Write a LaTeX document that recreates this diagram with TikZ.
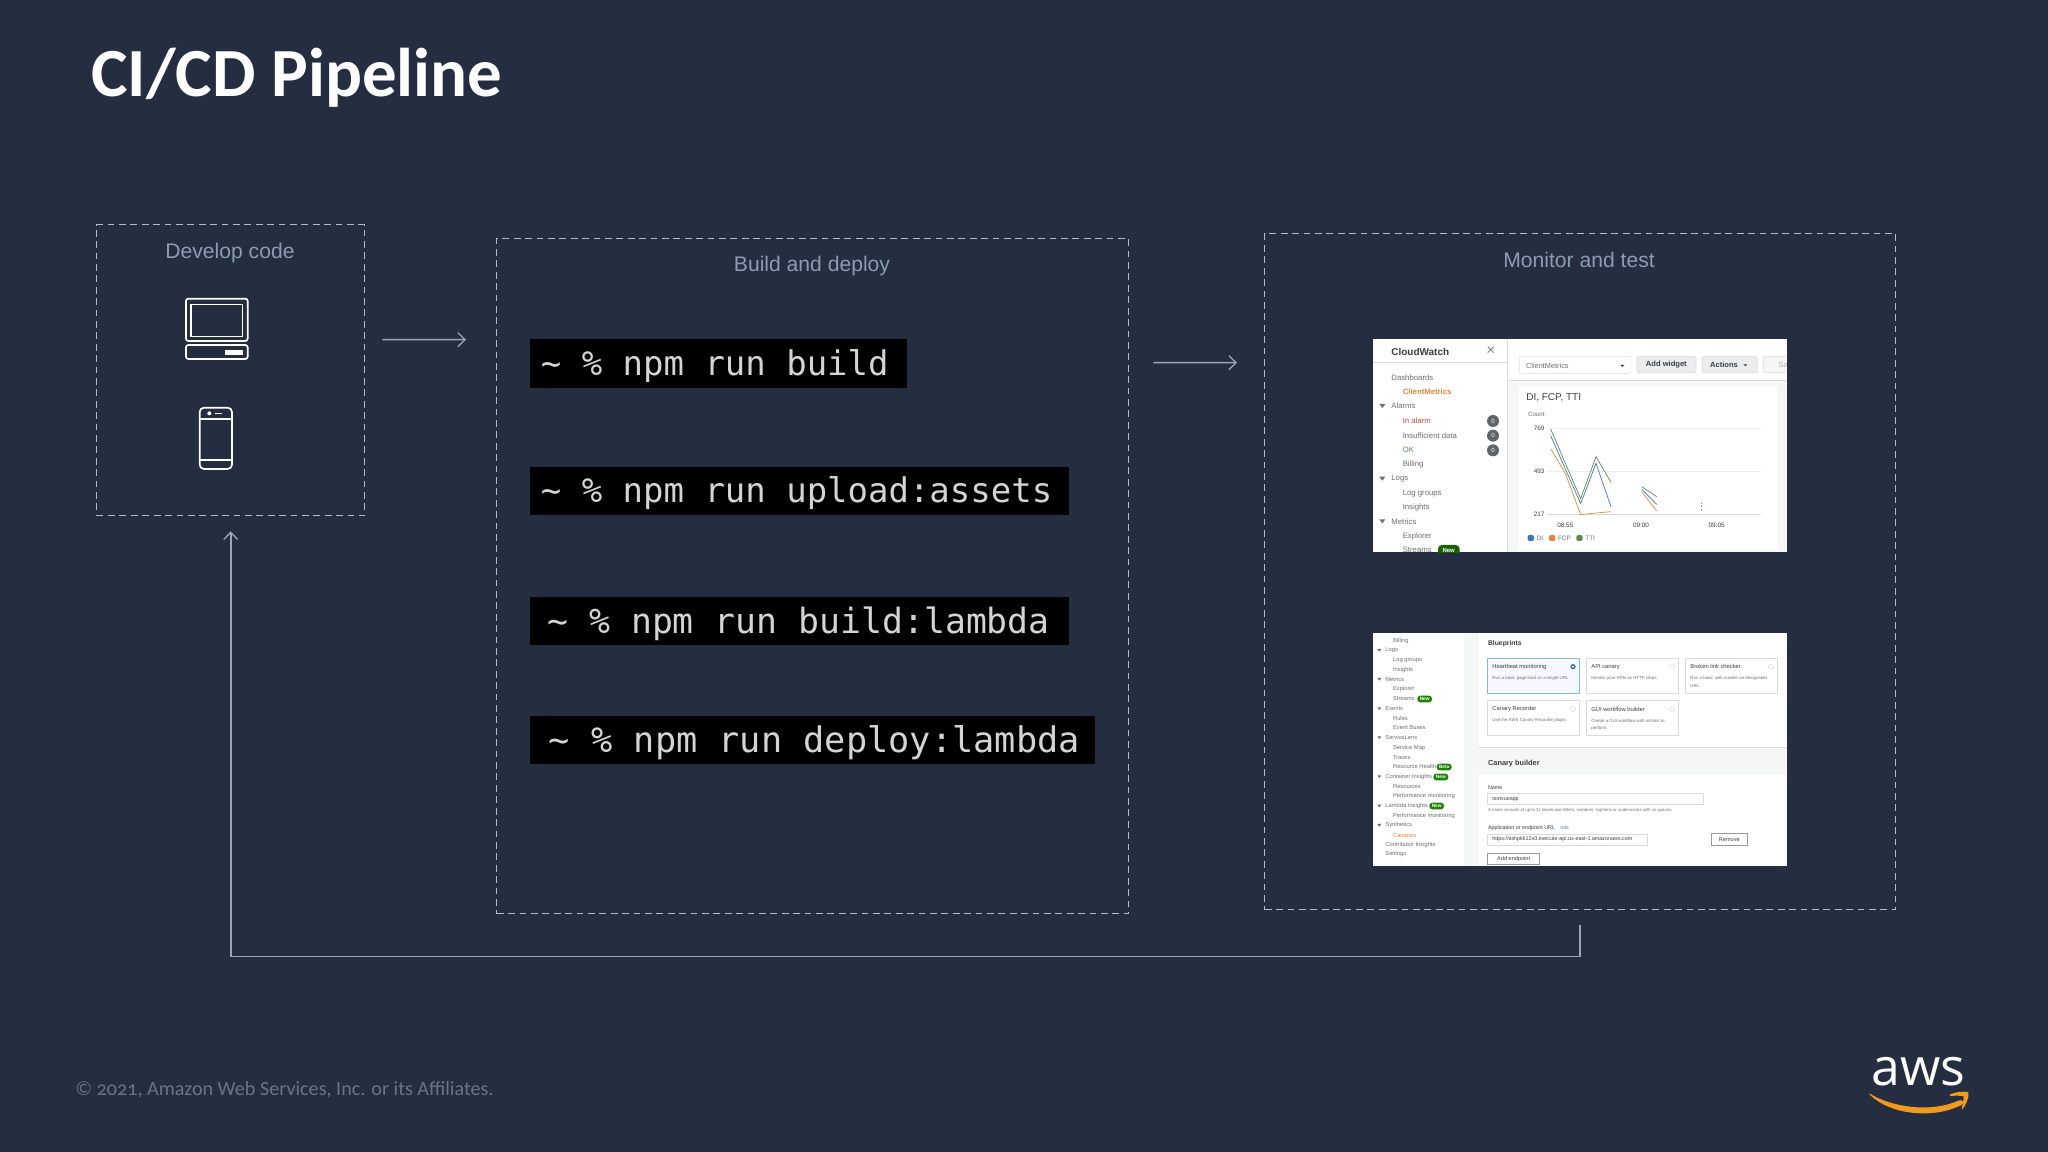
\documentclass[tikz,border=0pt]{standalone}
\usepackage{fontspec}
\setmainfont{Liberation Sans}
\newfontfamily\carlito[Numbers=OldStyle]{Carlito}
\newfontfamily\menlo{DejaVu Sans Mono}
\newfontfamily\opens{Open Sans}
\usetikzlibrary{arrows.meta,calc}
\definecolor{bgc}{HTML}{242E40}
\definecolor{dashc}{HTML}{B4BBC6}
\definecolor{linec}{HTML}{9AA7BA}
\definecolor{labelc}{HTML}{8C9BB2}
\definecolor{cmdc}{HTML}{D4D4D4}
\definecolor{foot}{HTML}{6B7484}
\definecolor{gt}{HTML}{6A6F76}
\definecolor{dt}{HTML}{3A3F45}
\definecolor{orng}{HTML}{E0873C}
\definecolor{rd}{HTML}{C0503A}
\definecolor{grn}{HTML}{5C8A4A}
\definecolor{blu}{HTML}{3F78B0}
\definecolor{pill}{HTML}{1D8102}
\definecolor{lite}{HTML}{F5F6F6}
\definecolor{edge}{HTML}{D9DCDE}
\definecolor{smile}{HTML}{F39A1E}
\newcounter{tc}
\newcommand{\tx}[5]{\stepcounter{tc}\node[anchor=west,inner sep=0pt,text=#4,font=\fontsize{#3}{#3}\selectfont] (t\thetc) at (#1,#2) {#5};}
\newcommand{\bx}[5]{\stepcounter{tc}\node[anchor=west,inner sep=0pt,text=#4,font=\fontsize{#3}{#3}\selectfont\bfseries] (t\thetc) at (#1,#2) {#5};}
\newcommand{\ct}[5]{\stepcounter{tc}\node[anchor=center,inner sep=0pt,text=#4,font=\fontsize{#3}{#3}\selectfont] (t\thetc) at (#1,#2) {#5};}
\tikzset{
  zone/.style={draw=dashc,line width=0.7pt,dash pattern=on 3.4bp off 2.3bp,inner sep=0pt,anchor=north west},
  zonelabel/.style={text=labelc,font=\fontsize{10.6}{12}\selectfont,inner sep=0pt,anchor=base},
  flow/.style={draw=linec,line width=0.8pt,-{Straight Barb[length=3.6pt,width=7pt,line width=0.65pt]}},
  cmdbox/.style={fill=black,inner sep=0pt,anchor=north west},
  cmdtext/.style={text=cmdc,inner sep=0pt,anchor=base west},
  icon/.style={draw=white,line width=0.85pt,rounded corners=1.2pt},
  pnl/.style={fill=white,draw=edge,line width=0.2pt},
  ln/.style={line width=0.35pt},
}
\begin{document}
\begin{tikzpicture}[x=0.5bp,y=-0.5bp]
\useasboundingbox (0,0) rectangle (2048,1152);
\fill[bgc] (0,0) rectangle (2048,1152);

% title and footer
\node[inner sep=0pt,anchor=base west,text=white,font=\carlito\fontsize{34.6}{36}\selectfont\bfseries] (title) at (91,97) {CI/CD Pipeline};
\node[inner sep=0pt,anchor=base west,text=foot,font=\carlito\fontsize{10.1}{12}\selectfont] (footer) at (75,1095) {© 2021, Amazon Web Services, Inc. or its Affiliates.};

% zones
\node[zone,minimum width=134bp,minimum height=145.5bp] (dev) at (96,224) {};
\node[zone,minimum width=316bp,minimum height=337.5bp] (build) at (496,238) {};
\node[zone,minimum width=315.5bp,minimum height=338bp] (mon) at (1264,233) {};
\node[zonelabel] (devl) at (230,259) {Develop code};
\node[zonelabel] (buildl) at (812,272) {Build and deploy};
\node[zonelabel] (monl) at (1579,268) {Monitor and test};

% connectors
\draw[flow] ([xshift=8.5bp,yshift=15.25bp]dev.east) -- ([xshift=-15bp,yshift=118.25bp]build.west);
\draw[flow] ([xshift=12bp,yshift=106.75bp]build.east) -- ([xshift=-13.5bp,yshift=104.5bp]mon.west);
\draw[flow] ([yshift=-7.5bp]mon.south) -- ++(0,31) -| ([yshift=-7.5bp]dev.south);

% commands
\node[cmdbox,minimum width=188.5bp,minimum height=24.5bp] (c1) at (530,339) {};
\node[cmdbox,minimum width=269.5bp,minimum height=24bp] (c2) at (530,467) {};
\node[cmdbox,minimum width=269.5bp,minimum height=24bp] (c3) at (530,597) {};
\node[cmdbox,minimum width=282.5bp,minimum height=24bp] (c4) at (530,716) {};
\node[cmdtext,font=\menlo\fontsize{17.05}{18}\selectfont] (ct1) at (540.5,376) {\char126{} \% npm run build};
\node[cmdtext,font=\menlo\fontsize{17.05}{18}\selectfont] (ct2) at (540.5,503) {\char126{} \% npm run upload:assets};
\node[cmdtext,font=\menlo\fontsize{17.45}{18}\selectfont] (ct3) at (547,633.5) {\char126{} \% npm run build:lambda};
\node[cmdtext,font=\menlo\fontsize{17.7}{18}\selectfont] (ct4) at (548.5,752.5) {\char126{} \% npm run deploy:lambda};

% device icons
\begin{scope}[shift={(80,210)},x=0.16667bp,y=-0.16667bp]
\draw[icon] (318,266) rectangle (503,393);
\draw[icon,rounded corners=0pt,line width=0.75pt] (333,283) rectangle (488,380);
\draw[icon] (318,405) rectangle (503,447);
\fill[white] (435,420) rectangle (488,436);
\draw[icon,rounded corners=2.2pt] (359,593) rectangle (456,777);
\draw[white,line width=0.65pt] (359,627) -- (456,627) (359,750) -- (456,750);
\fill[white] (388,610) circle (6);
\draw[white,line width=0.7pt] (405,610) -- (427,610);
\end{scope}

% CloudWatch screenshot
\begin{scope}[shift={(1360,330)},x=0.16667bp,y=-0.16667bp]
\fill[white] (39,26) rectangle (1280,667);
\begin{scope}
\clip (39,26) rectangle (1280,667);
\fill[lite] (442,26) rectangle (1280,667);
\fill[white] (442,26) rectangle (1280,150);
\draw[edge,line width=0.4pt] (442,26) -- (442,667);
\fill[edge] (442,150) rectangle (1280,154);
\draw[edge,line width=0.2pt] (39,98) -- (442,98);
\bx{93}{66}{5}{dt}{CloudWatch}
\draw[gt,line width=0.35pt] (383,50) -- (401,68) (401,50) -- (383,68);
\tx{93}{144}{3.9}{gt}{Dashboards}
\bx{127}{186}{3.9}{orng}{ClientMetrics}
\tx{93}{228}{3.9}{gt}{Alarms}
\tx{127}{272}{3.9}{rd}{In alarm}
\tx{127}{316}{3.9}{gt}{Insufficient data}
\tx{127}{360}{3.9}{grn}{OK}
\tx{127}{404}{3.9}{gt}{Billing}
\tx{93}{446}{3.9}{gt}{Logs}
\tx{127}{490}{3.9}{gt}{Log groups}
\tx{127}{532}{3.9}{gt}{Insights}
\tx{93}{574}{3.9}{gt}{Metrics}
\tx{127}{618}{3.9}{gt}{Explorer}
\tx{127}{660}{3.9}{gt}{Streams}
\foreach \yy in {228,446,574} {\fill[gt] (58,\yy-6) -- (76,\yy-6) -- (67,\yy+6) -- cycle;}
\foreach \yy in {273,317,361} {\fill[dt!80] (399,\yy) circle (18); \ct{399}{\yy}{3}{white}{0}}
\fill[pill!75!black,rounded corners=2pt] (234,645) rectangle (299,690);
\ct{266}{660}{3}{white}{\bfseries New}
\draw[pnl,rounded corners=1pt] (478,80) rectangle (813,130);
\tx{497}{107}{3.7}{gt}{ClientMetrics}
\fill[dt] (781,105) -- (793,105) -- (787,111) -- cycle;
\fill[edge!55,draw=edge,rounded corners=1pt] (831,80) rectangle (1008,128);
\ct{919}{105}{3.8}{dt}{\bfseries Add widget}
\fill[edge!55,draw=edge,rounded corners=1pt] (1026,80) rectangle (1192,128);
\ct{1092}{105}{3.8}{dt}{\bfseries Actions}
\fill[dt] (1150,103) -- (1162,103) -- (1156,109) -- cycle;
\fill[lite,draw=edge,rounded corners=1pt] (1210,80) rectangle (1300,128);
\tx{1255}{105}{3.8}{edge!80!black}{Save}
\fill[white] (478,172) rectangle (1252,660);
\tx{498}{203}{5}{dt}{DI, FCP, TTI}
\tx{503}{252}{3.1}{gt}{Count}
\tx{520}{296}{3.2}{dt}{769}
\tx{520}{425}{3.2}{dt}{493}
\tx{520}{554}{3.2}{dt}{217}
\ct{616}{586}{3.2}{dt}{08:55}
\ct{843}{586}{3.2}{dt}{09:00}
\ct{1070}{586}{3.2}{dt}{09:05}
\draw[edge!50,line width=0.2pt] (560,296) -- (1202,296) (560,425) -- (1202,425);
\draw[edge,line width=0.5pt] (560,554) -- (1202,554);
\draw[orng,ln] (572,356) -- (616,430) -- (662,554) -- (708,549) -- (752,545);
\draw[orng,ln] (845,485) -- (890,543);
\draw[blu,ln] (572,317) -- (616,417) -- (662,521) -- (708,400) -- (753,530);
\draw[blu,ln] (845,478) -- (890,523);
\draw[grn,ln] (572,297) -- (616,400) -- (662,506) -- (708,380) -- (753,457);
\draw[grn,ln] (845,470) -- (890,500);
\fill[orng] (1023,537) rectangle (1027,542);
\fill[blu] (1023,527) rectangle (1027,532);
\fill[grn] (1023,518) rectangle (1027,523);
\fill[blu,rounded corners=1pt] (503,615) rectangle (522,633);
\tx{529}{624}{3.2}{gt}{DI}
\fill[orng,rounded corners=1pt] (567,615) rectangle (586,633);
\tx{593}{624}{3.2}{gt}{FCP}
\fill[grn,rounded corners=1pt] (649,615) rectangle (668,633);
\tx{675}{624}{3.2}{gt}{TTI}
\end{scope}
\end{scope}

% Canary screenshot
\begin{scope}[shift={(1360,625)},x=0.16667bp,y=-0.16667bp]
\fill[white] (39,24) rectangle (1280,724);
\begin{scope}
\clip (39,24) rectangle (1280,724);
\fill[lite] (312,24) rectangle (1280,724);
\fill[white] (358,24) rectangle (1280,724);
\fill[lite] (358,366) rectangle (1280,450);
\fill[edge] (358,365) rectangle (1280,368);
\tx{98}{47}{2.9}{gt}{Billing}
\tx{75}{76}{2.9}{gt}{Logs}
\tx{98}{105}{2.9}{gt}{Log groups}
\tx{98}{134}{2.9}{gt}{Insights}
\tx{75}{163}{2.9}{gt}{Metrics}
\tx{98}{192}{2.9}{gt}{Explorer}
\tx{98}{221}{2.9}{gt}{Streams}
\tx{75}{251}{2.9}{gt}{Events}
\tx{98}{281}{2.9}{gt}{Rules}
\tx{98}{309}{2.9}{gt}{Event Buses}
\tx{75}{338}{2.9}{gt}{ServiceLens}
\tx{98}{368}{2.9}{gt}{Service Map}
\tx{98}{397}{2.9}{gt}{Traces}
\tx{98}{425}{2.9}{gt}{Resource Health}
\tx{75}{455}{2.9}{gt}{Container Insights}
\tx{98}{485}{2.9}{gt}{Resources}
\tx{98}{514}{2.9}{gt}{Performance monitoring}
\tx{75}{543}{2.9}{gt}{Lambda Insights}
\tx{98}{572}{2.9}{gt}{Performance monitoring}
\tx{75}{601}{2.9}{gt}{Synthetics}
\tx{98}{630}{2.9}{orng}{Canaries}
\tx{75}{659}{2.9}{gt}{Contributor Insights}
\tx{75}{688}{2.9}{gt}{Settings}
\foreach \yy in {76,163,251,338,455,543,601} {\fill[gt] (52,\yy-4) -- (64,\yy-4) -- (58,\yy+4) -- cycle;}
\foreach \xa/\xb/\yy/\lab in {172/216/222/New,230/275/426/Beta,220/265/456/New,208/252/543/New} {
  \fill[pill,rounded corners=1.5pt] (\xa,\yy-10) rectangle (\xb,\yy+10);
  \ct{\xa/2+\xb/2}{\yy}{2.4}{white}{\bfseries \lab}
}
\bx{383}{55}{3.4}{dt}{Blueprints}
\fill[blue!3!white,draw=teal!50,line width=0.3pt] (383,100) rectangle (658,205);
\draw[pnl] (680,100) rectangle (955,205);
\draw[pnl] (977,100) rectangle (1253,205);
\draw[pnl] (383,225) rectangle (658,332);
\draw[pnl] (680,225) rectangle (955,332);
\tx{396}{125}{2.9}{dt}{Heartbeat monitoring}
\tx{396}{159}{2.2}{gt}{Run a basic page load on a single URL.}
\tx{693}{125}{2.9}{dt}{API canary}
\tx{693}{159}{2.2}{gt}{Monitor your APIs as HTTP steps.}
\tx{990}{125}{2.9}{dt}{Broken link checker}
\tx{990}{159}{2.2}{gt}{Run a basic web crawler on designated}
\tx{990}{183}{2.2}{gt}{URL.}
\tx{396}{252}{2.9}{dt}{Canary Recorder}
\tx{396}{287}{2.2}{gt}{Use the AWS Canary Recorder plugin.}
\tx{693}{252}{2.9}{dt}{GUI workflow builder}
\tx{693}{287}{2.2}{gt}{Create a GUI workflow with actions to}
\tx{693}{310}{2.2}{gt}{perform.}
\fill[blu] (639,125) circle (8);
\fill[white] (639,125) circle (3);
\foreach \xx/\yy in {936/125,1233/125,639/252,936/252} {\draw[edge,line width=0.25pt] (\xx,\yy) circle (8);}
\bx{383}{415}{3.7}{dt}{Canary builder}
\tx{383}{489}{2.7}{dt}{Name}
\draw[pnl] (383,506) rectangle (1030,539);
\tx{396}{523}{2.7}{dt}{testvueapp}
\tx{383}{555}{2.15}{gt}{A name consists of up to 21 lowercase letters, numbers, hyphens or underscores with no spaces.}
\tx{383}{608}{2.7}{dt}{Application or endpoint URL}
\tx{600}{608}{2.5}{blu}{Info}
\draw[pnl] (383,627) rectangle (862,660);
\tx{396}{643}{2.7}{dt}{https://axhpkk12x0.execute-api.us-east-1.amazonaws.com}
\draw[gt!70,line width=0.25pt] (1053,626) rectangle (1163,660);
\ct{1108}{643}{2.8}{dt}{Remove}
\draw[gt!70,line width=0.25pt] (383,685) rectangle (539,719);
\ct{461}{702}{2.8}{dt}{Add endpoint}
\end{scope}
\end{scope}

% aws logo
\begin{scope}[shift={(1820,1030)},x=0.16667bp,y=-0.16667bp]
\node[inner sep=0pt,anchor=base,text=white,font=\opens\fontsize{26}{28}\selectfont] (awsword) at (295,165) {aws};
\fill[smile] (148,190) .. controls (210,230) and (330,250) .. (415,212) .. controls (428,206) and (434,218) .. (424,225) .. controls (340,268) and (210,255) .. (148,193) -- cycle;
\fill[smile] (390,193) .. controls (410,185) and (432,183) .. (445,187) .. controls (448,203) and (438,226) .. (425,240) .. controls (426,225) and (431,212) .. (431,199) .. controls (420,196) and (405,197) .. (390,198) -- cycle;
\end{scope}
\end{tikzpicture}
\end{document}
